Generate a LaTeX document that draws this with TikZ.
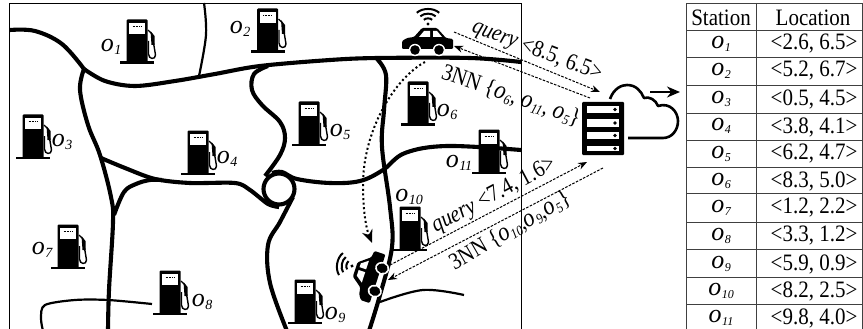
\documentclass[tikz,border=0pt]{standalone}
\usepackage{fontspec}
\usepackage{graphicx}
\setmainfont{Liberation Serif}
\usetikzlibrary{arrows.meta}
\newcommand{\stnL}[1]{{\fontsize{26}{26}\selectfont\itshape o\kern0.5pt\raisebox{-3pt}{\fontsize{14}{14}\selectfont #1}}}
\newcommand{\stnT}[1]{{\fontsize{26}{26}\selectfont\itshape o\kern0.5pt\raisebox{-3pt}{\fontsize{12}{12}\selectfont #1}}}
\newcommand{\stnA}[1]{{\fontsize{22}{22}\selectfont\itshape o\kern0.5pt\raisebox{-2.5pt}{\fontsize{12}{12}\selectfont #1}}}
\newcommand{\tallmsg}[1]{\scalebox{1.03}[1.18]{#1}}
\newcommand{\tallcell}[1]{\scalebox{1}[1.12]{#1}}
\tikzset{
  x=1pt,y=-1pt,
  road/.style={line width=4.1pt,black,line join=round},
  thinroad/.style={line width=2.2pt,black},
  msg/.style={line width=1pt,dash pattern=on 2.6pt off 1.4pt,-{Stealth[length=9pt,width=7pt]}},
  route/.style={line width=2pt,dash pattern=on 2pt off 2.6pt,-{Stealth[length=13pt,width=11pt]}},
  lab/.style={inner sep=0pt},
  msgtext/.style={inner sep=0pt,font=\fontsize{20}{20}\selectfont},
  cell/.style={inner sep=0pt,font=\fontsize{21}{21}\selectfont},
  rule/.style={line width=.9pt,black!75},
  pump/.pic={
    \fill[black,rounded corners=1pt] (-10.5,0) rectangle (10.5,-43.5);
    \fill[black] (-17,-1.5) rectangle (17,1.2);
    \fill[white] (-7.7,-40) rectangle (8,-29);
    \draw[black,line width=1.4pt,dash pattern=on 1pt off .6pt] (-4.5,-36.5) -- (4.5,-36.5);
    \draw[black,line width=1.2pt] (11,-33) -- (15,-29);
    \fill[black] (13.5,-32) -- (17.5,-27) -- (17.5,-18) -- (14.5,-18) -- cycle;
    \draw[black,line width=1.4pt] (11.5,-22) -- (11.5,-9) .. controls (11.5,-3.5) and (18.5,-3) .. (18.5,-8) -- (16.5,-20);
  },
  wifi/.pic={
    \fill[black] (0,0) circle (1.7);
    \foreach \r in {6,11,16}
      \draw[black,line width=2pt] (-.7*\r,-.7*\r) .. controls (-.35*\r,-1.02*\r) and (.35*\r,-1.02*\r) .. (.7*\r,-.7*\r);
  },
  car/.pic={
    \fill[black,rounded corners=1.2pt] (-25,7) -- (-25,-1) -- (-20,-4) -- (-13,-5) -- (-5,-14) -- (10,-14) -- (19,-4) -- (26,-3) -- (26,7) -- cycle;
    \fill[white] (-8,-5) -- (-3,-11) -- (3,-11) -- (3,-5) -- cycle;
    \fill[white] (6,-5) -- (6,-11) -- (10,-11) -- (15,-5) -- cycle;
    \foreach \w in {-12,12} {
      \fill[white] (\w,8) circle (6.2);
      \fill[black] (\w,8) circle (4.8);
    }
  }
}
\begin{document}
\begin{tikzpicture}
\useasboundingbox (0,0) rectangle (863,329);
\fill[white] (0,0) rectangle (863,329);
% map frame
\draw[line width=.7pt,black] (9.5,331) -- (9.5,3) -- (521.5,3) -- (521.5,331);
% roads
\draw[road] plot[smooth,tension=.6] coordinates {(10,30) (35,31) (62,44) (84,69)};
\draw[road] plot[smooth,tension=.55] coordinates {(84,69) (105,81) (135,86) (175,81) (215,74) (260,66) (330,60) (378,58) (470,58) (521,62)};
\draw[thinroad] plot[smooth,tension=.6] coordinates {(204,3) (206,35) (199,76)};
\draw[road] plot[smooth,tension=.6] coordinates {(84,69) (80,90) (88,125) (100,155) (111,197) (113,222) (109,290) (108,331)};
\draw[road] plot[smooth,tension=.5] coordinates {(101,158) (125,168) (155,179) (190,183) (235,183) (250,190) (268,204) (279,207)};
\draw[road] plot[smooth,tension=.6] coordinates {(114,215) (124,192) (136,184) (150,180) (162,180)};
\draw[road] plot[smooth,tension=.6] coordinates {(268,66) (254,74) (252,90) (262,105) (280,122) (285,138) (280,155) (265,176)};
\draw[road] (279,189) circle (15.5);
\draw[road] plot[smooth,tension=.6] coordinates {(272,173) (282,172) (297,179) (330,183) (360,181) (383,170) (405,153) (447,146) (521,150)};
\draw[road] plot[smooth,tension=.6] coordinates {(293,197) (280,222) (268,245) (270,283) (287,331)};
\draw[road] plot[smooth,tension=.6] coordinates {(377,59) (386,75) (384,110) (382,147) (390,207) (392,247) (380,295) (369,331)};
\draw[thinroad] plot[smooth,tension=.6] coordinates {(380,302) (423,290) (464,295)};
\draw[thinroad] plot[smooth,tension=.5] coordinates {(152,304) (108,300) (75,300) (45,305) (41,318) (43,331)};
% pumps
\pic at (137,63) {pump};
\pic at (267.5,52) {pump};
\pic at (33,158) {pump};
\pic at (198,174) {pump};
\pic at (309,145) {pump};
\pic at (418,125) {pump};
\pic at (68,268) {pump};
\pic at (170,314) {pump};
\pic at (305,323) {pump};
\pic at (410,250) {pump};
\pic at (489,173) {pump};
% station labels
\node[lab] (l1) at (111,47) {\stnL{1}};
\node[lab] (l2) at (240,29) {\stnL{2}};
\node[lab] (l3) at (62,142) {\stnL{3}};
\node[lab] (l4) at (227,159) {\stnL{4}};
\node[lab] (l5) at (340,132) {\stnL{5}};
\node[lab] (l6) at (447,112) {\stnL{6}};
\node[lab] (l7) at (42,250) {\stnL{7}};
\node[lab] (l8) at (202,302) {\stnL{8}};
\node[lab] (l9) at (335,315) {\stnL{9}};
\node[lab] (l10) at (409,197) {\stnL{10}};
\node[lab] (l11) at (459,163) {\stnL{11}};
% cars
\pic at (427,42) {car};
\pic at (428,24) {wifi};
\pic[rotate=72,yscale=1.15] at (369.75,276.8) {car};
\pic[rotate=80] at (352,266) {wifi};
% server
\fill[black,rounded corners=1pt] (582,102) rectangle (624,155);
\foreach \ya/\yb in {106/113,119/127,132/139,146/151} {
  \fill[white] (587,\ya) rectangle (618.5,\yb);
  \fill[black] (615,{(\ya+\yb)/2}) circle (1.9);
}
% cloud
\draw[line width=2.6pt,black,line join=round] (610,99) .. controls (614,88) and (622,85) .. (627,85) .. controls (636,85) and (641,91) .. (644,98) .. controls (649,96) and (656,100) .. (658,106) .. controls (670,102) and (678,112) .. (678,121) .. controls (678,130) and (672,138) .. (663,138) -- (628,138);
\draw[line width=2pt,-{Stealth[length=13pt,width=11pt]}] (650,92) -- (680,92);
% named ends of messages
\coordinate (qa) at (454,32);
\coordinate (qb) at (600,92);
\coordinate (ra) at (590,98);
\coordinate (rb) at (454,46);
\coordinate (sa) at (390,265);
\coordinate (sb) at (587,162);
\coordinate (ta) at (603,168);
\coordinate (tb) at (388,280);
\coordinate (da) at (425,62);
\coordinate (db) at (372,243);
\draw[msg] (qa) -- (qb);
\draw[msg] (ra) -- (rb);
\draw[msg] (sa) -- (sb);
\draw[msg] (ta) -- (tb);
\draw[route] (da) .. controls (395,78) and (363,130) .. (363,185) .. controls (363,210) and (366,228) .. (db);
% message labels
\node[msgtext,rotate=-21] (m1) at (537,51) {\tallmsg{\textit{query} <8.5, 6.5>}};
\node[msgtext,rotate=-19] (m2) at (511,96) {\tallmsg{3NN \{\stnA{6}, \stnA{11}, \stnA{5}\}}};
\node[msgtext,rotate=28] (m3) at (494,196) {\tallmsg{\textit{query} <7.4, 1.6>}};
\node[msgtext,rotate=30] (m4) at (510,231) {\tallmsg{3NN \{\stnA{10},\stnA{9},\stnA{5}\}}};
% table
\draw[rule] (686,3) rectangle (862,331);
\draw[rule] (756,3) -- (756,331);
\foreach \y in {30,57,85,113,140,167,193,222,249,277,304}
  \draw[rule] (686,\y) -- (862,\y);
\node[cell] (h1) at (721,17.5) {\tallcell{Station}};
\node[cell] (h2) at (813,17.5) {\tallcell{Location}};
\node[cell] (s1) at (721,44) {\stnT{1}};      \node[cell] (c1) at (814,44) {\tallcell{<2.6, 6.5>}};
\node[cell] (s2) at (721,71) {\stnT{2}};      \node[cell] (c2) at (814,71) {\tallcell{<5.2, 6.7>}};
\node[cell] (s3) at (721,99) {\stnT{3}};      \node[cell] (c3) at (814,99) {\tallcell{<0.5, 4.5>}};
\node[cell] (s4) at (721,126) {\stnT{4}};     \node[cell] (c4) at (814,127) {\tallcell{<3.8, 4.1>}};
\node[cell] (s5) at (721,154) {\stnT{5}};     \node[cell] (c5) at (814,154) {\tallcell{<6.2, 4.7>}};
\node[cell] (s6) at (721,181) {\stnT{6}};     \node[cell] (c6) at (814,181) {\tallcell{<8.3, 5.0>}};
\node[cell] (s7) at (721,208) {\stnT{7}};     \node[cell] (c7) at (814,208) {\tallcell{<1.2, 2.2>}};
\node[cell] (s8) at (721,236) {\stnT{8}};     \node[cell] (c8) at (814,236) {\tallcell{<3.3, 1.2>}};
\node[cell] (s9) at (721,264) {\stnT{9}};     \node[cell] (c9) at (814,264) {\tallcell{<5.9, 0.9>}};
\node[cell] (s10) at (721,291) {\stnT{10}};   \node[cell] (c10) at (814,291) {\tallcell{<8.2, 2.5>}};
\node[cell] (s11) at (721,318) {\stnT{11}};   \node[cell] (c11) at (814,318) {\tallcell{<9.8, 4.0>}};
\end{tikzpicture}
\end{document}
